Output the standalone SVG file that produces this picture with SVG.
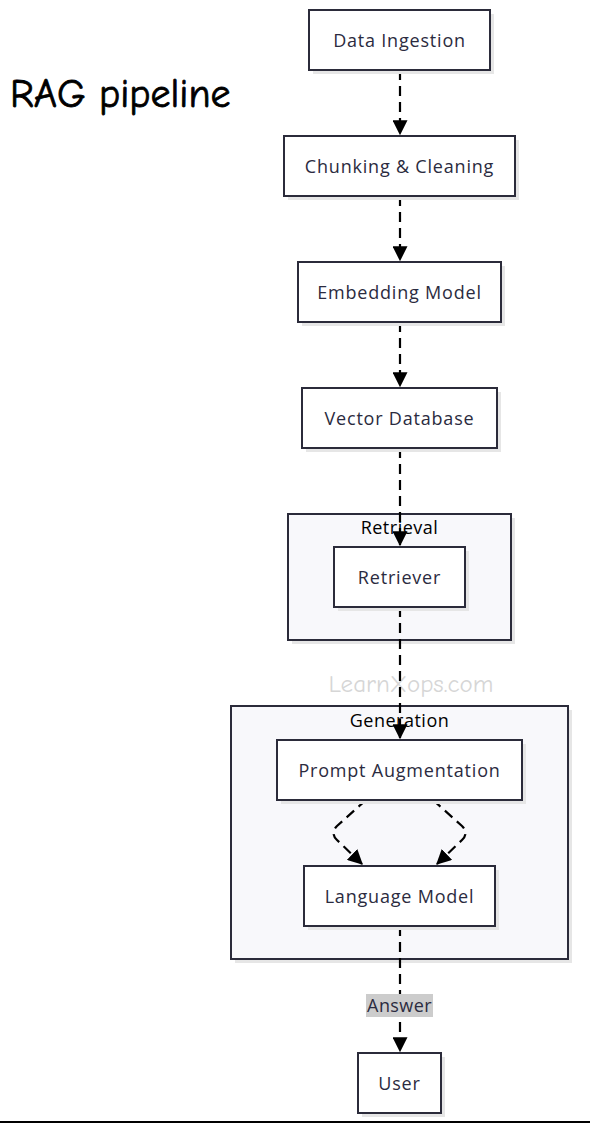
<svg xmlns="http://www.w3.org/2000/svg" width="590" height="1124" viewBox="0 0 590 1124">
<style>
.node rect.b{fill:#ffffff;stroke:#2b2b3a;stroke-width:2}
.node rect.s{fill:#e6e6e6;stroke:none}
.node text{font-family:"Open Sans","DejaVu Sans",sans-serif;font-size:18px;font-weight:500;letter-spacing:0.8px;fill:#2b2b40;text-anchor:middle;dominant-baseline:central}
.cluster rect.b{fill:#f8f8fb;stroke:#2b2b3a;stroke-width:2}
.cluster rect.s{fill:#e6e6e6;stroke:none}
.cluster text{font-family:"Open Sans","DejaVu Sans",sans-serif;font-size:18px;font-weight:500;letter-spacing:0.5px;fill:#000;text-anchor:middle;dominant-baseline:central}
.edge{fill:none;stroke:#000;stroke-width:2.2;stroke-dasharray:10,6}
</style>
<defs>
<marker id="ah" viewBox="0 0 12 12" refX="11" refY="6" markerWidth="15" markerHeight="15" orient="auto" markerUnits="userSpaceOnUse">
<path d="M0,0 L12,6 L0,12 z" fill="#000"/>
</marker>
</defs>
<rect x="0" y="0" width="590" height="1124" fill="#ffffff"/>
<text x="10" y="107" font-family="'Comic Neue','Comic Sans MS','DejaVu Sans',sans-serif" font-size="40" fill="#000" stroke="#000" stroke-width="0.8">RAG pipeline</text>
<g id="cluster-retrieval" class="cluster">
<rect class="s" x="292" y="518" width="223" height="126"/>
<rect class="b" x="288" y="514" width="223" height="126"/>
<text x="399.5" y="527">Retrieval</text>
</g>
<g id="cluster-generation" class="cluster">
<rect class="s" x="235" y="710" width="337" height="253"/>
<rect class="b" x="231" y="706" width="337" height="253"/>
<text x="399.5" y="720">Generation</text>
</g>
<text x="411" y="683" font-family="'Comic Neue','Comic Sans MS','DejaVu Sans',sans-serif" font-size="25" fill="#d6d6d6" text-anchor="middle" dominant-baseline="central">LearnXops.com</text>
<g id="edges">
<path class="edge" d="M400,70 L400,134" marker-end="url(#ah)"/>
<path class="edge" d="M400,196 L400,260" marker-end="url(#ah)"/>
<path class="edge" d="M400,322 L400,386" marker-end="url(#ah)"/>
<path class="edge" d="M400,448 L400,545" marker-end="url(#ah)"/>
<path class="edge" d="M400,607 L400,738" marker-end="url(#ah)"/>
<path class="edge" d="M366,800 L337,826 Q330,833 337,840 L362,864" marker-end="url(#ah)"/>
<path class="edge" d="M433,800 L462,826 Q469,833 462,840 L437,864" marker-end="url(#ah)"/>
<path class="edge" d="M400,926 L400,1051" marker-end="url(#ah)"/>
</g>
<g id="edge-label-answer">
<rect x="366" y="994" width="67" height="23" fill="#cccccc"/>
<text x="399.5" y="1005" font-family="'Open Sans','DejaVu Sans',sans-serif" font-size="18" font-weight="500" letter-spacing="0.4" fill="#2b2b40" text-anchor="middle" dominant-baseline="central">Answer</text>
</g>
<g id="node-data-ingestion" class="node">
<rect class="s" x="313" y="14" width="181" height="60"/>
<rect class="b" x="309" y="10" width="181" height="60"/>
<text x="399.5" y="39.5">Data Ingestion</text>
</g>
<g id="node-chunking" class="node">
<rect class="s" x="288" y="140" width="231" height="60"/>
<rect class="b" x="284" y="136" width="231" height="60"/>
<text x="399.5" y="165.5">Chunking &amp; Cleaning</text>
</g>
<g id="node-embedding" class="node">
<rect class="s" x="302" y="266" width="203" height="60"/>
<rect class="b" x="298" y="262" width="203" height="60"/>
<text x="399.5" y="291.5">Embedding Model</text>
</g>
<g id="node-vectordb" class="node">
<rect class="s" x="306" y="392" width="195" height="60"/>
<rect class="b" x="302" y="388" width="195" height="60"/>
<text x="399.5" y="417.5">Vector Database</text>
</g>
<g id="node-retriever" class="node">
<rect class="s" x="338" y="551" width="131" height="60"/>
<rect class="b" x="334" y="547" width="131" height="60"/>
<text x="399.5" y="576.5">Retriever</text>
</g>
<g id="node-prompt" class="node">
<rect class="s" x="281" y="744" width="245" height="60"/>
<rect class="b" x="277" y="740" width="245" height="60"/>
<text x="399.5" y="769.5">Prompt Augmentation</text>
</g>
<g id="node-llm" class="node">
<rect class="s" x="308" y="870" width="191" height="60"/>
<rect class="b" x="304" y="866" width="191" height="60"/>
<text x="399.5" y="895.5">Language Model</text>
</g>
<g id="node-user" class="node">
<rect class="s" x="362" y="1057" width="83" height="60"/>
<rect class="b" x="358" y="1053" width="83" height="60"/>
<text x="399.5" y="1082.5">User</text>
</g>
<line x1="0" y1="1122" x2="590" y2="1122" stroke="#000" stroke-width="2"/>
</svg>
